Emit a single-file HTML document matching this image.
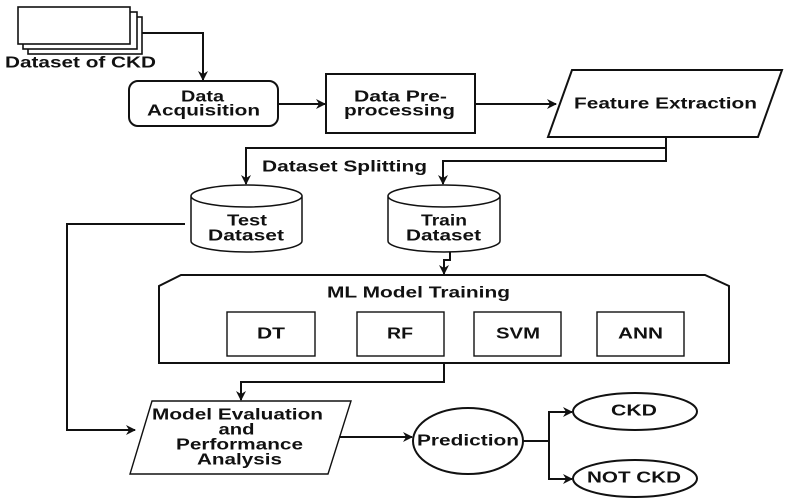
<!DOCTYPE html>
<html><head><style>html,body{margin:0;padding:0;background:#fff}svg{display:block}text{font-family:"Liberation Sans",Arial,sans-serif;font-weight:bold;font-size:15.5px;fill:#111;text-anchor:middle;dominant-baseline:central}</style></head>
<body>
<svg width="787" height="498" viewBox="0 0 787 498" xmlns="http://www.w3.org/2000/svg">
<defs><marker id="a" markerWidth="10" markerHeight="10" refX="9" refY="5" orient="auto" markerUnits="userSpaceOnUse"><path d="M0,0 L10,5 L0,10 L3,5 Z" fill="#111"/></marker></defs>
<g fill="#fff" stroke="#111" stroke-width="1.6">
<rect x="28" y="17" width="114" height="37"/>
<rect x="23" y="12" width="114" height="37"/>
<rect x="18" y="7" width="112" height="37"/>
</g>
<g lengthAdjust="spacingAndGlyphs">
<text x="80.5" y="63" textLength="151" lengthAdjust="spacingAndGlyphs">Dataset of CKD</text>
</g>
<g fill="none" stroke="#111" stroke-width="2">
<polyline points="142,33 203,33 203,80" marker-end="url(#a)"/>
<rect x="129" y="81" width="149" height="45" rx="9" fill="#fff"/>
<line x1="278" y1="104" x2="325" y2="104" marker-end="url(#a)"/>
<rect x="326" y="74" width="149" height="59" fill="#fff"/>
<line x1="475" y1="104" x2="556" y2="104" marker-end="url(#a)"/>
<polygon points="572,70 782,70 758,137 548,137" fill="#fff"/>
<polyline points="666,137 666,148 246,148 246,184" marker-end="url(#a)"/>
<polyline points="666,148 666,161 443,161 443,184" marker-end="url(#a)"/>
<path d="M191,196 L191,241 A55.5,11 0 0 0 302,241 L302,196 A55.5,11 0 0 0 191,196 A55.5,11 0 0 0 302,196" fill="#fff" stroke-width="1.5"/>
<path d="M388,196 L388,241 A56,11 0 0 0 500,241 L500,196 A56,11 0 0 0 388,196 A56,11 0 0 0 500,196" fill="#fff" stroke-width="1.5"/>
<polyline points="185,224 67,224 67,430 135,430" marker-end="url(#a)"/>
<polyline points="450,252 450,260 444,260 444,274" marker-end="url(#a)"/>
<polygon points="181,275 705,275 729,286 729,363 159,363 159,286" fill="#fff"/>
<g stroke-width="1.4"><rect x="227" y="312" width="88" height="44"/><rect x="357" y="312" width="87" height="44"/><rect x="474" y="312" width="87" height="44"/><rect x="597" y="312" width="87" height="44"/></g>
<polyline points="444,363 444,382 241,382 241,400" marker-end="url(#a)"/>
<polygon points="152,401 351,401 328,474 130,474" fill="#fff" stroke-width="1.4"/>
<line x1="339" y1="437" x2="412" y2="437" marker-end="url(#a)"/>
<ellipse cx="468" cy="441" rx="55" ry="33" fill="#fff"/>
<polyline points="523,441 549,441 549,412 572,412" marker-end="url(#a)"/>
<polyline points="549,441 549,479 572,479" marker-end="url(#a)"/>
<ellipse cx="635" cy="411.5" rx="62" ry="18.5" fill="#fff"/>
<ellipse cx="635" cy="478.5" rx="62" ry="18.5" fill="#fff"/>
</g>
<text x="202.5" y="97" textLength="43" lengthAdjust="spacingAndGlyphs">Data</text>
<text x="203.5" y="111" textLength="113" lengthAdjust="spacingAndGlyphs">Acquisition</text>
<text x="400.5" y="97" textLength="93" lengthAdjust="spacingAndGlyphs">Data Pre-</text>
<text x="399.5" y="111" textLength="111" lengthAdjust="spacingAndGlyphs">processing</text>
<text x="665.5" y="104" textLength="183" lengthAdjust="spacingAndGlyphs">Feature Extraction</text>
<text x="344.5" y="167" textLength="165" lengthAdjust="spacingAndGlyphs">Dataset Splitting</text>
<text x="247" y="221" textLength="40" lengthAdjust="spacingAndGlyphs">Test</text>
<text x="246" y="236" textLength="76" lengthAdjust="spacingAndGlyphs">Dataset</text>
<text x="444" y="221" textLength="46" lengthAdjust="spacingAndGlyphs">Train</text>
<text x="443.5" y="236" textLength="75" lengthAdjust="spacingAndGlyphs">Dataset</text>
<text x="418.5" y="293" textLength="183" lengthAdjust="spacingAndGlyphs">ML Model Training</text>
<text x="271" y="334" textLength="28" lengthAdjust="spacingAndGlyphs">DT</text>
<text x="400" y="334" textLength="26" lengthAdjust="spacingAndGlyphs">RF</text>
<text x="518" y="334" textLength="44" lengthAdjust="spacingAndGlyphs">SVM</text>
<text x="640.5" y="334" textLength="45" lengthAdjust="spacingAndGlyphs">ANN</text>
<text x="237.5" y="415" textLength="171" lengthAdjust="spacingAndGlyphs">Model Evaluation</text>
<text x="236.5" y="430" textLength="36" lengthAdjust="spacingAndGlyphs">and</text>
<text x="239.5" y="445" textLength="127" lengthAdjust="spacingAndGlyphs">Performance</text>
<text x="239.5" y="460" textLength="85" lengthAdjust="spacingAndGlyphs">Analysis</text>
<text x="468" y="441" textLength="102" lengthAdjust="spacingAndGlyphs">Prediction</text>
<text x="634" y="411" textLength="46" lengthAdjust="spacingAndGlyphs">CKD</text>
<text x="634" y="478" textLength="94" lengthAdjust="spacingAndGlyphs">NOT CKD</text>
</svg>
</body></html>
